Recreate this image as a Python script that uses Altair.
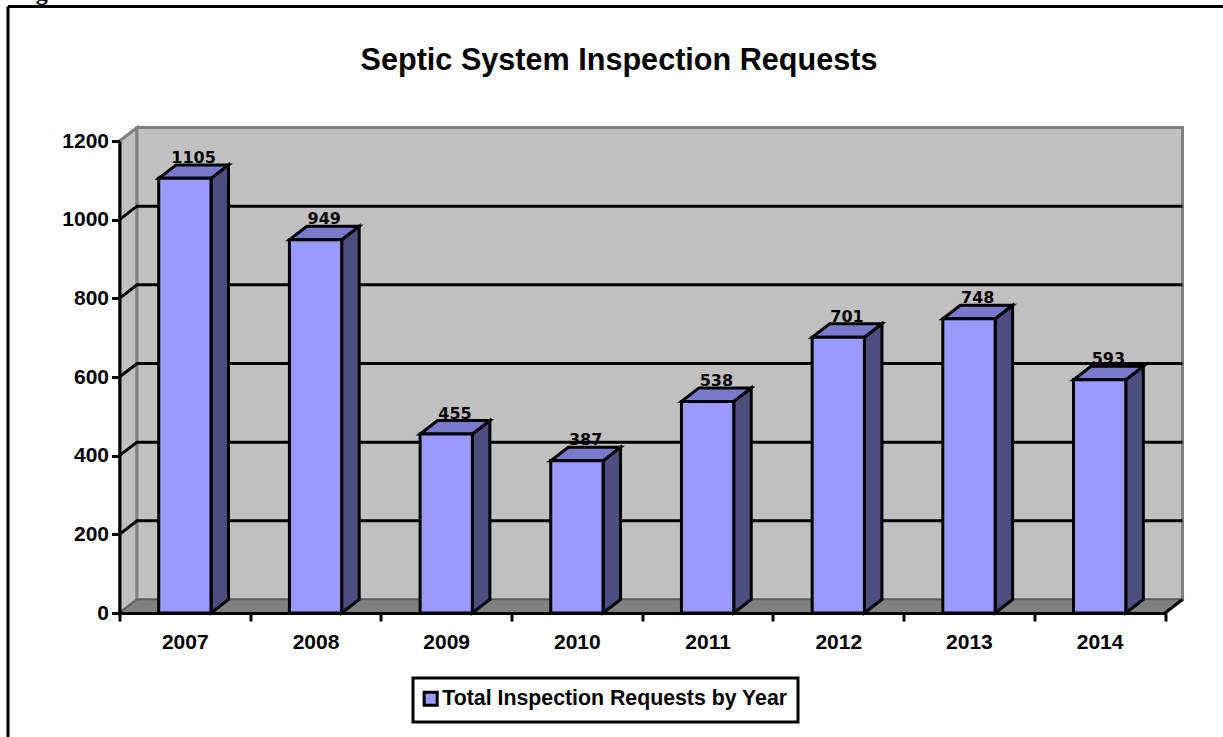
import json

import altair as alt
import pandas as pd

# Yearly counts of septic system inspection requests
years = ["2007", "2008", "2009", "2010", "2011", "2012", "2013", "2014"]
requests = [1105, 949, 455, 387, 538, 701, 748, 593]
chart_title = "Septic System Inspection Requests"
series_name = "Total Inspection Requests by Year"
y_ticks = [0, 200, 400, 600, 800, 1000, 1200]
grid_values = [200, 400, 600, 800, 1000]

# Oblique projection used for the box look, in axis units
DEPTH_X = 0.134
DEPTH_Y = 34.3
BAR_LEFT = 0.30
BAR_RIGHT = 0.70
N = len(years)
Y_MAX = y_ticks[-1]

FONT = "Liberation Sans"
BLACK = "#000000"
WALL = "#C0C0C0"
WALL_EDGE = "#808080"
FLOOR = "#808080"
FRONT = "#9999FF"
SIDE = "#4D4D80"
TOP = "#7A7ACC"
LINE = 3


def polygon_rows(name, corners):
    return [{"shape": name, "i": i, "x": x, "y": y} for i, (x, y) in enumerate(corners)]


walls = pd.DataFrame(
    polygon_rows("left", [(0, 0), (DEPTH_X, DEPTH_Y), (DEPTH_X, Y_MAX + DEPTH_Y), (0, Y_MAX)])
    + polygon_rows("back", [(DEPTH_X, DEPTH_Y), (N + DEPTH_X, DEPTH_Y),
                            (N + DEPTH_X, Y_MAX + DEPTH_Y), (DEPTH_X, Y_MAX + DEPTH_Y)])
)
floor = pd.DataFrame(polygon_rows("floor", [(0, 0), (N, 0), (N + DEPTH_X, DEPTH_Y), (DEPTH_X, DEPTH_Y)]))

grid_rows = []
for v in grid_values:
    grid_rows += polygon_rows(f"g{v}", [(0, v), (DEPTH_X, v + DEPTH_Y), (N + DEPTH_X, v + DEPTH_Y)])
grid = pd.DataFrame(grid_rows)

floor_edge = pd.DataFrame(polygon_rows("edge", [(N, 0), (N + DEPTH_X, DEPTH_Y)]))

side_rows, top_rows, front_rows, label_rows = [], [], [], []
for k, (year, value) in enumerate(zip(years, requests)):
    x0, x1 = k + BAR_LEFT, k + BAR_RIGHT
    side_rows += polygon_rows(year, [(x1, 0), (x1 + DEPTH_X, DEPTH_Y),
                                     (x1 + DEPTH_X, value + DEPTH_Y), (x1, value)])
    top_rows += polygon_rows(year, [(x0, value), (x1, value),
                                    (x1 + DEPTH_X, value + DEPTH_Y), (x0 + DEPTH_X, value + DEPTH_Y)])
    front_rows.append({"x": x0, "x1": x1, "y": value, "y0": 0, "series": series_name})
    label_rows.append({"x": k + 0.5 + DEPTH_X / 2, "y": value + DEPTH_Y, "label": str(value)})

x_axis = alt.Axis(
    values=list(range(N + 1)),
    labelExpr=f"{json.dumps(years)}[datum.value] || ''",
    labelOffset=65.3,
    labelFont=FONT, labelFontWeight="bold", labelFontSize=21, labelColor=BLACK,
    labelPadding=10, labelBound=False, labelFlush=False, labelOverlap=False,
    domainColor=BLACK, domainWidth=LINE, tickColor=BLACK, tickWidth=LINE, tickSize=8,
    grid=False, title=None, zindex=2,
)
y_axis = alt.Axis(
    values=y_ticks, format="d",
    labelFont=FONT, labelFontWeight="bold", labelFontSize=21, labelColor=BLACK,
    labelPadding=3, labelBound=False, labelFlush=False, labelOverlap=False,
    domainColor=BLACK, domainWidth=LINE, tickColor=BLACK, tickWidth=LINE, tickSize=8,
    grid=False, title=None, zindex=2,
)
x_enc = alt.X("x:Q", scale=alt.Scale(domain=[0, N], nice=False, zero=False), axis=x_axis)
y_enc = alt.Y("y:Q", scale=alt.Scale(domain=[0, Y_MAX], nice=False), axis=y_axis)


def closed_faces(df, fill, stroke, width):
    return (
        alt.Chart(df)
        .mark_line(interpolate="linear-closed", fill=fill, stroke=stroke, strokeWidth=width,
                   strokeJoin="miter", clip=False)
        .encode(x=x_enc, y=y_enc, detail="shape:N", order="i:Q")
    )


wall_layer = closed_faces(walls, WALL, WALL_EDGE, LINE)
grid_layer = (
    alt.Chart(grid)
    .mark_line(color=BLACK, strokeWidth=LINE)
    .encode(x=x_enc, y=y_enc, detail="shape:N", order="i:Q")
)
floor_layer = closed_faces(floor, FLOOR, "#595959", 1.5)
edge_layer = (
    alt.Chart(floor_edge)
    .mark_line(color=BLACK, strokeWidth=LINE)
    .encode(x=x_enc, y=y_enc, detail="shape:N", order="i:Q")
)
side_layer = closed_faces(pd.DataFrame(side_rows), SIDE, BLACK, LINE)
top_layer = closed_faces(pd.DataFrame(top_rows), TOP, BLACK, LINE)

front_layer = (
    alt.Chart(pd.DataFrame(front_rows))
    .mark_rect(stroke=BLACK, strokeWidth=LINE)
    .encode(
        x=x_enc, x2="x1:Q", y=y_enc, y2="y0:Q",
        color=alt.Color(
            "series:N",
            scale=alt.Scale(domain=[series_name], range=[FRONT]),
            legend=alt.Legend(
                title=None, orient="none", legendX=293.5, legendY=537,
                symbolType="square", symbolSize=170, symbolStrokeColor=BLACK,
                symbolStrokeWidth=LINE, symbolOpacity=1, symbolOffset=-3, labelOffset=1,
                labelFont=FONT, labelFontWeight="bold", labelFontSize=21.3, labelColor=BLACK,
                labelLimit=500, fillColor="#FFFFFF", strokeColor=BLACK, padding=10,
            ),
        ),
    )
)

value_labels = (
    alt.Chart(pd.DataFrame(label_rows))
    .mark_text(font="DejaVu Sans", fontWeight="bold", fontSize=16, color=BLACK,
               baseline="bottom", dy=1)
    .encode(x=x_enc, y=y_enc, text="label:N")
)

# Text and page frame sit outside the plot area, so they are placed in pixels
title_text = alt.Chart(pd.DataFrame({"t": [chart_title]})).mark_text(
    font=FONT, fontWeight="bold", fontSize=30.6, color=BLACK, align="center", baseline="alphabetic",
).encode(x=alt.value(499.5), y=alt.value(-71), text="t:N")

frame_anchor = pd.DataFrame({"x": [0], "y": [0]})
frame_top = alt.Chart(frame_anchor).mark_rule(color=BLACK, strokeWidth=LINE).encode(
    x=alt.value(-111.5), x2=alt.value(1110), y=alt.value(-134.5)
)
frame_left = alt.Chart(frame_anchor).mark_rule(color=BLACK, strokeWidth=LINE).encode(
    x=alt.value(-111.5), y=alt.value(-134.5), y2=alt.value(600)
)
caption = alt.Chart(pd.DataFrame({"t": ["Figure"]})).mark_text(
    font="Liberation Serif", fontWeight="bold", fontSize=24, align="left", baseline="alphabetic",
    color=BLACK,
).encode(x=alt.value(-105), y=alt.value(-141), text="t:N")

chart = (
    alt.layer(
        wall_layer, grid_layer, floor_layer, edge_layer,
        side_layer, top_layer, front_layer, value_labels,
        frame_top, frame_left, caption, title_text,
    )
    .properties(
        width=1045.5,
        height=472,
        padding={"left": 119.5, "top": 141, "right": 58, "bottom": 124},
        autosize=alt.AutoSizeParams(type="none"),
        background="#FFFFFF",
    )
    .configure_view(stroke=None)
    .configure_legend(strokeWidth=LINE)
)

chart.save("out.html", embed_options={"renderer": "svg", "actions": False})
